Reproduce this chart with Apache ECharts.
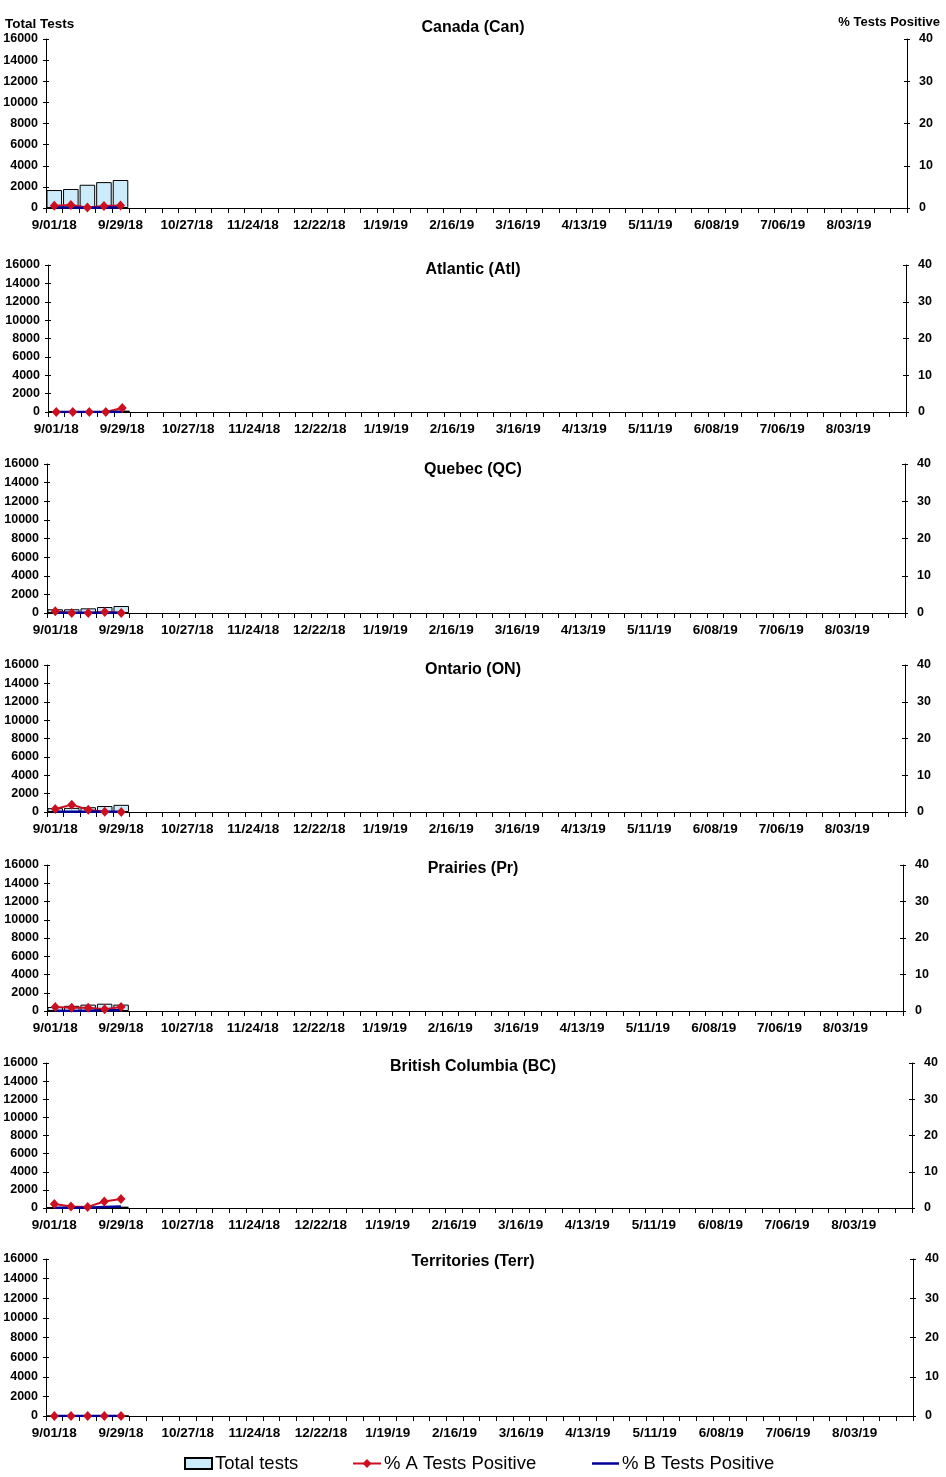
<!DOCTYPE html>
<html><head><meta charset="utf-8">
<script src="https://cdn.jsdelivr.net/npm/echarts@6/dist/echarts.min.js"></script>
<style>html,body{margin:0;padding:0;background:#fff}#c{width:946px;height:1477px}</style>
</head><body><div id="c"></div>
<script>
const weeks = ['9/01/18','9/08/18','9/15/18','9/22/18','9/29/18','10/06/18','10/13/18','10/20/18','10/27/18','11/03/18','11/10/18','11/17/18','11/24/18','12/01/18','12/08/18','12/15/18','12/22/18','12/29/18','1/05/19','1/12/19','1/19/19','1/26/19','2/02/19','2/09/19','2/16/19','2/23/19','3/02/19','3/09/19','3/16/19','3/23/19','3/30/19','4/06/19','4/13/19','4/20/19','4/27/19','5/04/19','5/11/19','5/18/19','5/25/19','6/01/19','6/08/19','6/15/19','6/22/19','6/29/19','7/06/19','7/13/19','7/20/19','7/27/19','8/03/19','8/10/19','8/17/19','8/24/19'];
const regions = ['Canada (Can)','Atlantic (Atl)','Quebec (QC)','Ontario (ON)','Prairies (Pr)','British Columbia (BC)','Territories (Terr)'];
const totalTests = [
  [1700,1800,2200,2450,2650],
  [80,90,100,110,150],
  [400,400,500,640,750],
  [420,450,520,650,780],
  [440,570,700,800,700],
  [100,110,120,130,150],
  [5,5,6,6,8]
];
const pctA = [
  [0.55,0.7,0.1,0.5,0.6],
  [0.0,0.0,0.0,0.0,1.1],
  [0.5,0.0,0.0,0.3,0.0],
  [0.8,2.0,0.6,0.1,0.0],
  [1.1,0.9,0.9,0.5,1.1],
  [1.1,0.4,0.3,1.8,2.5],
  [0,0,0,0,0]
];
const pctB = [
  [0.1,0.1,0.0,0.1,0.1],
  [0,0,0,0,0],
  [0.1,0.1,0.1,0.1,0.1],
  [0.1,0.1,0.1,0.1,0.1],
  [0.1,0.0,0.1,0.2,0.2],
  [0.1,0.1,0.1,0.3,0.4],
  [0,0,0,0,0]
];
const leftTicks = {min:0,max:16000,interval:2000};
const rightTicks = {min:0,max:40,interval:10};

// layout: [leftAxisX, rightAxisX, top, bottom, titleY]
const layout = [
  [46,907,39,208,26],
  [48,906,265,412,268],
  [47,905,464,613,468],
  [47,905,665,812,668],
  [47,903,865,1011,867],
  [46,912,1063,1208,1065],
  [46,913,1259,1416,1260]
];
const FONT = 'Liberation Sans, Arial, sans-serif';
const grid=[], xAxis=[], yAxis=[], series=[], title=[];
const lbl = {color:'#000',fontWeight:'bold',fontSize:12.5,fontFamily:FONT};
const axLine = {show:true,lineStyle:{color:'#000',width:1}};
const plain = v => String(v);
layout.forEach((L,i)=>{
  grid.push({left:L[0],top:L[2],width:L[1]-L[0],height:L[3]-L[2],containLabel:false});
  title.push({text:regions[i],left:'center',top:L[4]-6,padding:0,textStyle:{fontSize:16,fontWeight:'bold',color:'#000',fontFamily:FONT}});
  const xi = xAxis.length;
  xAxis.push({type:'category',gridIndex:i,data:weeks,boundaryGap:true,axisLine:axLine,
    axisTick:{show:true,interval:0,length:4,lineStyle:{color:'#000'}},
    axisLabel:Object.assign({},lbl,{interval:3,margin:10,fontSize:13.5}),splitLine:{show:false}});
  xAxis.push({type:'category',gridIndex:i,data:weeks,boundaryGap:true,axisLine:{show:false},
    axisTick:{show:true,inside:true,interval:0,length:5,lineStyle:{color:'#000'}},
    axisLabel:{show:false},splitLine:{show:false}});
  const yi = yAxis.length;
  yAxis.push(Object.assign({type:'value',gridIndex:i,position:'left',axisLine:axLine,
    axisTick:{show:true,length:3,lineStyle:{color:'#000'}},axisLabel:Object.assign({margin:8,formatter:plain},lbl),splitLine:{show:false}},leftTicks));
  yAxis.push(Object.assign({type:'value',gridIndex:i,position:'right',axisLine:axLine,
    axisTick:{show:true,length:3,lineStyle:{color:'#000'}},axisLabel:Object.assign({margin:12,formatter:plain},lbl),splitLine:{show:false}},rightTicks));
  yAxis.push(Object.assign({type:'value',gridIndex:i,position:'left',axisLine:{show:false},
    axisTick:{show:true,inside:true,length:3,lineStyle:{color:'#000'}},axisLabel:{show:false},splitLine:{show:false}},leftTicks));
  yAxis.push(Object.assign({type:'value',gridIndex:i,position:'right',axisLine:{show:false},
    axisTick:{show:true,inside:true,length:3,lineStyle:{color:'#000'}},axisLabel:{show:false},splitLine:{show:false}},rightTicks));
  series.push({name:'Total tests',type:'bar',xAxisIndex:xi,yAxisIndex:yi,data:totalTests[i],barCategoryGap:'6%',
    itemStyle:{color:'#CCEBFB',borderColor:'#000',borderWidth:1},silent:true});
  series.push({name:'% A Tests Positive',type:'line',xAxisIndex:xi,yAxisIndex:yi+1,data:pctA[i],
    symbol:'diamond',symbolSize:[9,10],showSymbol:true,lineStyle:{color:'#CC1020',width:2},itemStyle:{color:'#CC1020'},silent:true});
  series.push({name:'% B Tests Positive',type:'line',xAxisIndex:xi,yAxisIndex:yi+1,data:pctB[i],
    symbol:'none',lineStyle:{color:'#000099',width:2.5},itemStyle:{color:'#000099'},silent:true});
});
const legTxt = {fontSize:18.5,color:'#000',fontFamily:FONT,padding:[0,0,0,-2]};
const option = {
  animation:false,
  backgroundColor:'#fff',
  title:title,
  graphic:[
    {type:'text',left:5,top:17,style:{text:'Total Tests',font:'bold 13.5px '+FONT,fill:'#000'}},
    {type:'text',right:6,top:16,style:{text:'% Tests Positive',font:'bold 13px '+FONT,fill:'#000'}}
  ],
  legend:[
    {data:[{name:'Total tests',icon:'rect'}],left:184,top:1454,itemWidth:27,itemHeight:11,padding:0,textStyle:legTxt},
    {data:['% A Tests Positive'],left:352,top:1454,itemWidth:28,itemHeight:11,padding:0,textStyle:legTxt},
    {data:[{name:'% B Tests Positive',icon:'rect'}],left:592,top:1454,itemWidth:27,itemHeight:2.5,padding:0,textStyle:legTxt}
  ],
  grid:grid, xAxis:xAxis, yAxis:yAxis, series:series
};
const chart = echarts.init(document.getElementById('c'),null,{renderer:'canvas'});
chart.setOption(option);
</script></body></html>
